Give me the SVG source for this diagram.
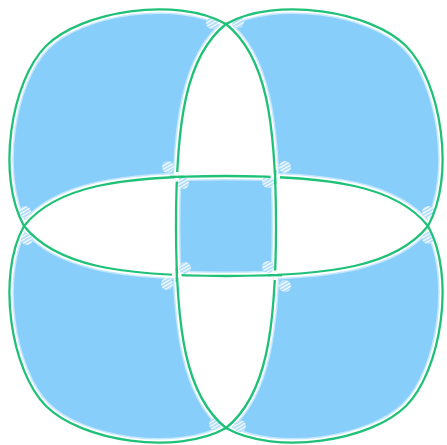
<svg xmlns="http://www.w3.org/2000/svg" width="447" height="445" viewBox="0 0 447 445">
<defs>
<style>
.ln{fill:none;stroke:#1fc178;stroke-width:2.3;stroke-linecap:round;stroke-linejoin:round}
.ko{stroke:#ffffff;stroke-width:4;stroke-linecap:butt}
.seg{stroke:#1fc178;stroke-width:2.3;stroke-linecap:butt}
.blob{fill:url(#hatch)}
.blue{fill:#87cefa;fill-rule:evenodd;stroke:#c2e6fd;stroke-width:9}
.rim{fill:none;stroke:#ffffff;stroke-width:6}
</style>
<pattern id="hatch" width="3" height="3" patternUnits="userSpaceOnUse" patternTransform="rotate(60)">
<rect width="3" height="3" fill="#b4defc"/>
<line x1="0.5" y1="0" x2="0.5" y2="3" stroke="#ffffff" stroke-width="1"/>
</pattern>
<path id="outer" d="M -202 0 C -230 -50 -215 -145 -180 -180 C -145 -215 -50 -230 0 -202 C 50 -230 145 -215 180 -180 C 215 -145 230 -50 202 0 C 230 50 215 145 180 180 C 145 215 50 230 0 202 C -50 230 -145 215 -180 180 C -215 145 -230 50 -202 0 Z"/>
<path id="vlens" d="M 0 -202 C -40 -170 -50 -105 -50 0 C -50 105 -40 170 0 202 C 40 170 50 105 50 0 C 50 -105 40 -170 0 -202 Z"/>
<path id="hlens" d="M -202 0 C -170 -40 -105 -50 0 -50 C 105 -50 170 -40 202 0 C 170 40 105 50 0 50 C -105 50 -170 40 -202 0 Z"/>
<path id="all" d="M -202 0 C -230 -50 -215 -145 -180 -180 C -145 -215 -50 -230 0 -202 C 50 -230 145 -215 180 -180 C 215 -145 230 -50 202 0 C 230 50 215 145 180 180 C 145 215 50 230 0 202 C -50 230 -145 215 -180 180 C -215 145 -230 50 -202 0 Z M 0 -202 C -40 -170 -50 -105 -50 0 C -50 105 -40 170 0 202 C 40 170 50 105 50 0 C 50 -105 40 -170 0 -202 Z M -202 0 C -170 -40 -105 -50 0 -50 C 105 -50 170 -40 202 0 C 170 40 105 50 0 50 C -105 50 -170 40 -202 0 Z"/>
<clipPath id="clipBlue"><use href="#all" clip-rule="evenodd"/></clipPath>
</defs>
<rect width="447" height="445" fill="#ffffff"/>
<g transform="translate(226 226)">
<g id="regions" clip-path="url(#clipBlue)">
<use href="#all" class="blue"/>
<use href="#all" class="rim"/>
<g id="corner-marks">
<circle class="blob" cx="-14" cy="-203" r="6"/>
<circle class="blob" cx="12" cy="-204" r="6"/>
<circle class="blob" cx="-201" cy="-14" r="6"/>
<circle class="blob" cx="-199" cy="13" r="6"/>
<circle class="blob" cx="202" cy="-14" r="6"/>
<circle class="blob" cx="202" cy="12" r="6"/>
<circle class="blob" cx="-11" cy="198" r="6"/>
<circle class="blob" cx="14" cy="200" r="6"/>
<circle class="blob" cx="-58" cy="-59" r="6"/>
<circle class="blob" cx="59" cy="-59" r="6"/>
<circle class="blob" cx="-59" cy="58" r="6"/>
<circle class="blob" cx="59" cy="60" r="6"/>
<circle class="blob" cx="-43" cy="-43" r="6"/>
<circle class="blob" cx="42" cy="-44" r="6"/>
<circle class="blob" cx="-41" cy="42" r="6"/>
<circle class="blob" cx="42" cy="41" r="6"/>
</g>
</g>
<g id="outlines">
<use href="#outer" class="ln"/>
<use href="#vlens" class="ln"/>
<use href="#hlens" class="ln"/>
<line class="ko" x1="-49.3" y1="-54" x2="-49.3" y2="-44.5"/>
<line class="seg" x1="-56" y1="-49.2" x2="-42" y2="-49.2"/>
<line class="ko" x1="44.5" y1="-49.3" x2="54" y2="-49.3"/>
<line class="seg" x1="49.2" y1="-56" x2="49.2" y2="-42"/>
<line class="ko" x1="-54" y1="49.3" x2="-44.5" y2="49.3"/>
<line class="seg" x1="-49.2" y1="42" x2="-49.2" y2="56"/>
<line class="ko" x1="49.3" y1="44.5" x2="49.3" y2="54"/>
<line class="seg" x1="42" y1="49.2" x2="56" y2="49.2"/>
</g>
</g>
</svg>
